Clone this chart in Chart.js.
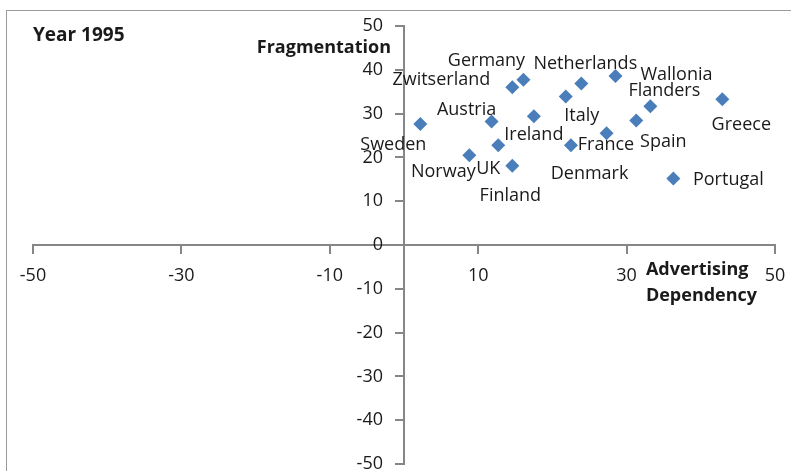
<!DOCTYPE html>
<html>
<head>
<meta charset="utf-8">
<script src="https://cdn.jsdelivr.net/npm/chart.js@4.4.1/dist/chart.umd.min.js"></script>
<style>
  html, body { margin: 0; padding: 0; background: #fff; overflow: hidden; }
  #frame {
    position: absolute; left: 6px; top: 10px; width: 820px; height: 500px;
    border: 1px solid #9a9a9a; box-sizing: border-box;
  }
  #wrap { position: absolute; left: 0; top: 0; width: 791px; height: 471px; }
</style>
</head>
<body>
<div id="frame"></div>
<div id="wrap"><canvas id="c" width="791" height="471"></canvas></div>
<script>
// Media systems, 1995: advertising dependency vs. press fragmentation
const countries = ['Sweden', 'Zwitserland', 'Germany', 'Netherlands', 'Italy', 'Wallonia',
  'Austria', 'Ireland', 'Spain', 'Flanders', 'Greece', 'Denmark', 'France', 'UK',
  'Norway', 'Finland', 'Portugal'];
const adDependency = [2.2, 14.6, 16.1, 23.9, 21.8, 28.5, 11.8, 17.5, 31.3, 33.2, 42.9,
  27.3, 22.5, 12.7, 8.8, 14.6, 36.3];
const fragmentation = [27.6, 36.0, 37.7, 36.9, 33.9, 38.6, 28.2, 29.4, 28.4, 31.7, 33.3,
  25.5, 22.8, 22.8, 20.5, 18.1, 15.2];

// axis range and tick spacing
const xRange = [-50, 50];
const yRange = [-50, 50];
const xStep = 20;
const yStep = 10;

// where each country's name sits relative to its marker (px)
const labelNudge = [[-27, 21], [-71, -7], [-37, -19], [4, -20], [16, 19], [61, -1],
  [-25, -12], [0, 19], [27, 21], [14, -15], [19, 26], [-17, 41], [35, 0], [-10, 24],
  [-26, 17], [-2, 30], [55, 1]];

const FONT = '"Open Sans", "Noto Sans", sans-serif';
const TEXT = '#1a1a1a';
const AXIS = '#868686';

const points = adDependency.map((x, i) => ({ x, y: fragmentation[i] }));

const annotate = {
  id: 'annotate',
  afterDatasetsDraw(chart) {
    const { ctx, scales: { x, y } } = chart;
    const meta = chart.getDatasetMeta(0);
    const x0 = x.getPixelForValue(0);
    const y0 = y.getPixelForValue(0);
    ctx.save();
    ctx.fillStyle = TEXT;
    ctx.textBaseline = 'middle';

    // value labels of the vertical axis, left of its tick marks
    ctx.font = '18px ' + FONT;
    ctx.textAlign = 'right';
    y.ticks.forEach(t => {
      ctx.fillText(String(t.value), x0 - 21, y.getPixelForValue(t.value));
    });

    // country names
    ctx.textAlign = 'center';
    meta.data.forEach((el, i) => {
      const [dx, dy] = labelNudge[i];
      ctx.fillText(countries[i], el.x + dx, el.y + dy);
    });

    ctx.font = 'bold 19px ' + FONT;
    ctx.textAlign = 'left';
    ctx.fillText('Year 1995', 33, 36);
    ctx.font = 'bold 18px ' + FONT;
    ctx.textAlign = 'right';
    ctx.fillText('Fragmentation', x0 - 13, y.getPixelForValue(45));
    ctx.textAlign = 'left';
    const ax = x.getPixelForValue(32.6);
    ctx.fillText('Advertising', ax, y0 + 25);
    ctx.fillText('Dependency', ax, y0 + 51);
    ctx.restore();
  }
};

function flatten(s, dim) {
  s[dim] = 0;
  s.paddingLeft = s.paddingRight = s.paddingTop = s.paddingBottom = 0;
}

new Chart(document.getElementById('c'), {
  type: 'scatter',
  data: {
    datasets: [{
      data: points,
      pointStyle: 'rectRot',
      pointRadius: 7,
      pointHoverRadius: 7,
      backgroundColor: '#4a7ebb',
      borderColor: '#4a7ebb',
      borderWidth: 0
    }]
  },
  options: {
    responsive: false,
    animation: false,
    events: [],
    layout: { padding: { left: 33, right: 16, top: 26, bottom: 7 } },
    plugins: { legend: { display: false }, tooltip: { enabled: false } },
    scales: {
      x: {
        type: 'linear',
        position: { y: 0 },
        min: xRange[0], max: xRange[1],
        afterFit(s) { flatten(s, 'height'); },
        ticks: { stepSize: xStep, color: TEXT, font: { family: FONT, size: 18 }, padding: 12, maxRotation: 0 },
        grid: { drawOnChartArea: false, tickLength: 8, color: AXIS, lineWidth: 2 },
        border: { color: AXIS, width: 2 }
      },
      y: {
        type: 'linear',
        position: { x: 0 },
        min: yRange[0], max: yRange[1],
        afterFit(s) { flatten(s, 'width'); },
        ticks: { stepSize: yStep, display: false },
        grid: { drawOnChartArea: false, tickLength: 8, color: AXIS, lineWidth: 2 },
        border: { color: AXIS, width: 2 }
      }
    }
  },
  plugins: [annotate]
});
</script>
</body>
</html>
